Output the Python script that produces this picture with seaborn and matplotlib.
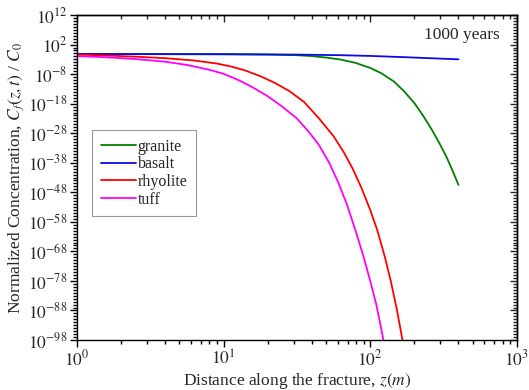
import matplotlib
matplotlib.use("Agg")
import matplotlib.pyplot as plt
import matplotlib.ticker as mticker
import numpy as np
import pandas as pd
import seaborn as sns

sns.set_theme(style="ticks")
plt.rcParams['font.family'] = ['Liberation Serif', 'DejaVu Serif']
plt.rcParams['mathtext.fontset'] = 'stix'

# values: distance z (m) and log10 of C_f/C_0
granite_z = [1, 10, 20, 31.6, 39.8, 50.1, 63.1, 79.4, 100, 120, 145, 170, 200, 229,
             263, 295, 331, 363, 400]
granite_logc = [-1.2, -1.3, -1.4, -1.6, -1.9, -2.4, -3.1, -4.2, -5.9, -7.8, -10.5,
                -13.8, -17.8, -22.0, -26.8, -31.2, -36.0, -40.5, -45.5]

basalt_z = [1, 10, 31.6, 63.1, 100, 158, 251, 400]
basalt_logc = [-1.2, -1.25, -1.4, -1.6, -1.85, -2.2, -2.6, -3.0]

rhyolite_z = [1, 1.58, 2.51, 3.98, 6.31, 8.91, 11.2, 14.1, 17.8, 22.4, 28.2, 35.5,
              44.7, 56.2, 66.1, 75.9, 87.1, 100, 112, 126, 138, 151, 166]
rhyolite_logc = [-1.4, -1.7, -2.1, -2.6, -3.4, -4.4, -5.4, -6.8, -8.7, -11.0, -13.8,
                 -17.5, -23.0, -29.0, -34.5, -40.0, -46.5, -54.0, -61.0, -70.0, -78.0,
                 -87.0, -98.0]

tuff_z = [1, 1.58, 2.51, 3.98, 5.62, 7.94, 10, 12.6, 15.8, 20, 25.1, 31.6, 38, 44.7,
          52.5, 60.3, 69.2, 79.4, 89.1, 100, 110, 117, 123]
tuff_logc = [-1.9, -2.3, -2.9, -3.8, -4.9, -6.5, -7.9, -10.0, -12.5, -15.5, -19.0,
             -23.0, -27.5, -32.0, -38.0, -44.5, -52.0, -61.0, -69.0, -78.0, -86.0,
             -92.5, -98.0]

materials = ['granite', 'basalt', 'rhyolite', 'tuff']
colors = {'granite': '#008000', 'basalt': '#0a0ae6', 'rhyolite': '#ff0000', 'tuff': '#ff00ff'}

frames = []
for name, z, lc in [('granite', granite_z, granite_logc), ('basalt', basalt_z, basalt_logc),
                    ('rhyolite', rhyolite_z, rhyolite_logc), ('tuff', tuff_z, tuff_logc)]:
    frames.append(pd.DataFrame({'z': z, 'c': 10.0 ** np.array(lc), 'material': name}))
df = pd.concat(frames, ignore_index=True)

fig = plt.figure(figsize=(5.29, 3.90), dpi=100)
ax = fig.add_axes([0.1456, 0.1282, 0.8314, 0.8333])

sns.lineplot(data=df, x='z', y='c', hue='material', hue_order=materials,
             palette=colors, sort=False, estimator=None, linewidth=1.3, ax=ax)

ax.set_xscale('log')
ax.set_yscale('log')
ax.set_xlim(1, 1000)
ax.set_ylim(1e-98, 1e12)

fmt = mticker.FuncFormatter(lambda v, p: r'$10^{%d}$' % round(np.log10(v)))
yt = 10.0 ** np.arange(12, -99, -10)
ym = 10.0 ** np.arange(12, -99, -1)
xt = [1, 10, 100, 1000]

ax.yaxis.set_major_locator(mticker.FixedLocator(yt))
ax.yaxis.set_minor_locator(mticker.FixedLocator(ym))
ax.yaxis.set_major_formatter(fmt)
ax.yaxis.set_minor_formatter(mticker.NullFormatter())
ax.xaxis.set_major_locator(mticker.FixedLocator(xt))
ax.xaxis.set_major_formatter(fmt)
ax.xaxis.set_minor_locator(mticker.LogLocator(base=10, subs=np.arange(2, 10), numticks=20))
ax.xaxis.set_minor_formatter(mticker.NullFormatter())

ax.tick_params(which='both', direction='out', labelsize=12.5, color='black', width=1, pad=2)
ax.tick_params(which='major', length=5)
ax.tick_params(which='minor', length=3)

# mirrored axes: ticks inward
top = ax.secondary_xaxis('top')
top.xaxis.set_major_locator(mticker.FixedLocator(xt))
top.xaxis.set_minor_locator(mticker.LogLocator(base=10, subs=np.arange(2, 10), numticks=20))
top.xaxis.set_major_formatter(mticker.NullFormatter())
top.xaxis.set_minor_formatter(mticker.NullFormatter())
top.tick_params(which='both', direction='in', width=1)
top.tick_params(which='major', length=5)
top.tick_params(which='minor', length=3)

right = ax.secondary_yaxis('right')
right.yaxis.set_major_locator(mticker.FixedLocator(yt))
right.yaxis.set_minor_locator(mticker.FixedLocator(ym))
right.yaxis.set_major_formatter(mticker.NullFormatter())
right.yaxis.set_minor_formatter(mticker.NullFormatter())
right.tick_params(which='both', direction='in', width=1)
right.tick_params(which='major', length=5)
right.tick_params(which='minor', length=3)

for s in list(ax.spines.values()) + [top.spines['top'], right.spines['right']]:
    s.set_color('black')
    s.set_linewidth(1)

ax.set_xlabel(r'Distance along the fracture, $\mathit{z(m)}$', fontsize=12.5, labelpad=1)
ax.set_ylabel(r'Normalized Concentration, $C_f(z,t)$ / $C_0$', fontsize=12.5, labelpad=1)

ax.text(0.961, 0.938, '1000 years', transform=ax.transAxes, ha='right', va='center', fontsize=12.5)

leg = ax.legend(loc='upper left', bbox_to_anchor=(0.034, 0.646), borderaxespad=0,
                fontsize=11.5, handlelength=2.2, handletextpad=0.1, labelspacing=0.1,
                frameon=True, fancybox=False, edgecolor='#808080', borderpad=0.55)
leg.get_frame().set_linewidth(0.8)
for line in leg.get_lines():
    line.set_linewidth(1.3)

fig.savefig('out.png', dpi=100)
